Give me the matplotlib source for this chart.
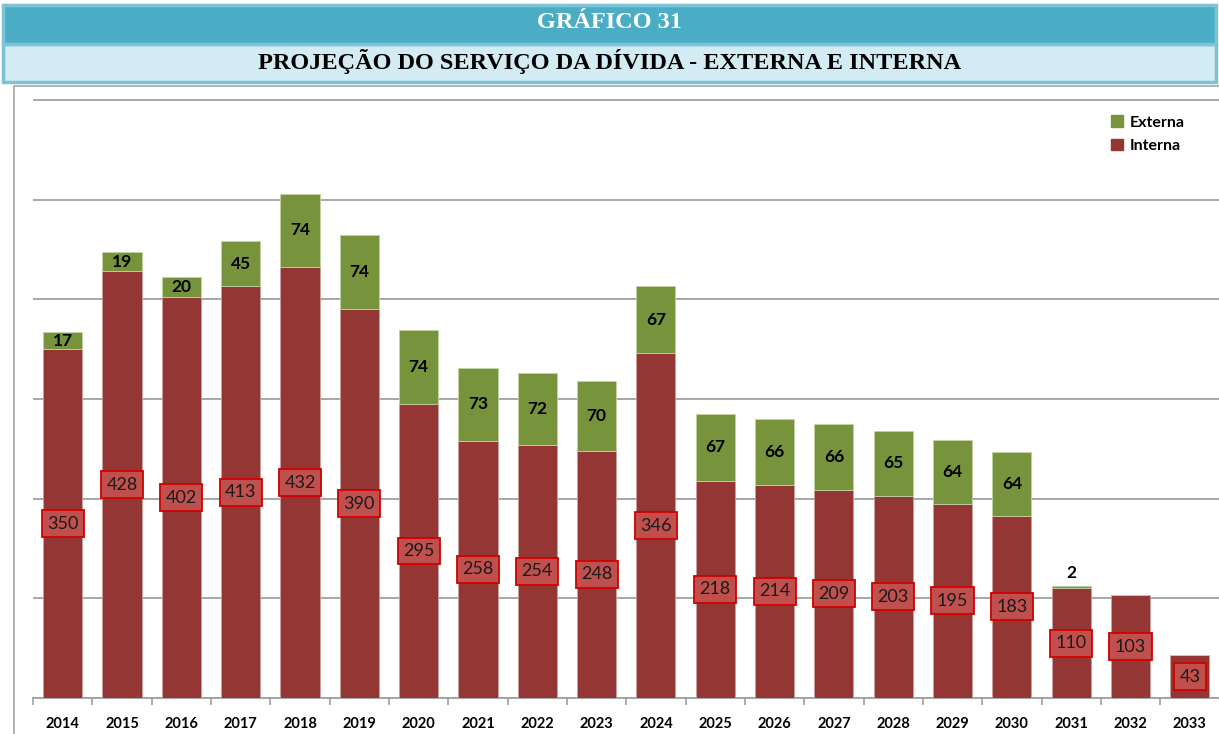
import matplotlib.pyplot as plt
import numpy as np
from matplotlib.patches import Rectangle, Patch

anos = ['2014', '2015', '2016', '2017', '2018', '2019', '2020', '2021', '2022', '2023',
        '2024', '2025', '2026', '2027', '2028', '2029', '2030', '2031', '2032', '2033']
interna = [350, 428, 402, 413, 432, 390, 295, 258, 254, 248,
           346, 218, 214, 209, 203, 195, 183, 110, 103, 43]
externa = [17, 19, 20, 45, 74, 74, 74, 73, 72, 70,
           67, 67, 66, 66, 65, 64, 64, 2, 0, 0]

cor_int = '#943634'
cor_ext = '#77933C'

fig = plt.figure(figsize=(12.19, 7.34), dpi=100)

# caixas do titulo
fig.patches.append(Rectangle((3/1219, 1-82/734), 1213/1219, 38/734, transform=fig.transFigure,
                             fc='#D3EBF2', ec='#7DC3D6', lw=2.5))
fig.patches.append(Rectangle((3/1219, 1-44/734), 1213/1219, 39/734, transform=fig.transFigure,
                             fc='#4BACC6', ec='#7DC3D6', lw=2.5))
fig.text(0.5, 1-23/734, 'GRÁFICO 31', ha='center', va='center', color='white',
         fontsize=17.5, fontweight='bold', family='Liberation Serif')
fig.text(0.5, 1-62/734, 'PROJEÇÃO DO SERVIÇO DA DÍVIDA - EXTERNA E INTERNA', ha='center', va='center',
         color='black', fontsize=17.5, fontweight='bold', family='Liberation Serif')

# borda da area do grafico
fig.patches.append(Rectangle((14/1219, -0.01), 1.0, 1-86/734 + 0.01, transform=fig.transFigure,
                             fc='none', ec='#A6A6A6', lw=1.2))

ax_h = 610 * 0.997 / 734
ax = fig.add_axes([33/1219, 1-698/734, 1186.5/1219, ax_h])
x = np.arange(len(anos))
ax.bar(x, interna, width=0.66, color=cor_int, edgecolor='#C9A0A0', linewidth=0.6, zorder=3)
ax.bar(x, externa, width=0.66, bottom=interna, color=cor_ext, edgecolor='#C4D3A4', linewidth=0.6, zorder=3)

ax.set_xlim(-0.5, len(anos) - 0.5)
ax.set_ylim(0, 610)
ax.set_yticks(range(0, 601, 100))
ax.yaxis.grid(True, color='#A0A0A0', lw=1.3, zorder=0)
ax.tick_params(axis='y', left=False, labelleft=False)
for s in ['left', 'right', 'top']:
    ax.spines[s].set_visible(False)
ax.spines['bottom'].set_color('#A0A0A0')
ax.spines['bottom'].set_linewidth(1.3)

ax.set_xticks(x)
ax.set_xticklabels(anos, fontsize=10.5, fontweight='bold', family='Lato')
ax.set_xticks(np.arange(-0.5, len(anos), 1), minor=True)
ax.tick_params(axis='x', which='major', length=0, pad=14)
ax.tick_params(axis='x', which='minor', length=5, color='#A0A0A0', width=1.2)

for i in x:
    ax.text(i, interna[i] / 2, str(interna[i]), ha='center', va='center', fontsize=13,
            family='Lato', color='#1a1a1a', zorder=5,
            bbox=dict(boxstyle='square,pad=0.3', fc='#C0504D', ec='#D00000', lw=1.3))
    if externa[i] >= 10:
        ax.text(i, interna[i] + externa[i] / 2, str(externa[i]), ha='center', va='center',
                fontsize=12.5, fontweight='bold', family='Lato', color='black', zorder=5)
    elif externa[i] > 0:
        ax.text(i, interna[i] + externa[i] + 13, str(externa[i]), ha='center', va='center',
                fontsize=12.5, fontweight='bold', family='Lato', color='black', zorder=5)

handles = [Patch(color=cor_ext, label='Externa'), Patch(color=cor_int, label='Interna')]
fig.legend(handles=handles, loc='upper left', bbox_to_anchor=(1097/1219, 1-101/734), frameon=False,
           handlelength=0.7, handleheight=0.7, handletextpad=0.45, labelspacing=0.6,
           prop={'family': 'Lato', 'weight': 'bold', 'size': 11.5})

fig.savefig('out.png', dpi=100)
